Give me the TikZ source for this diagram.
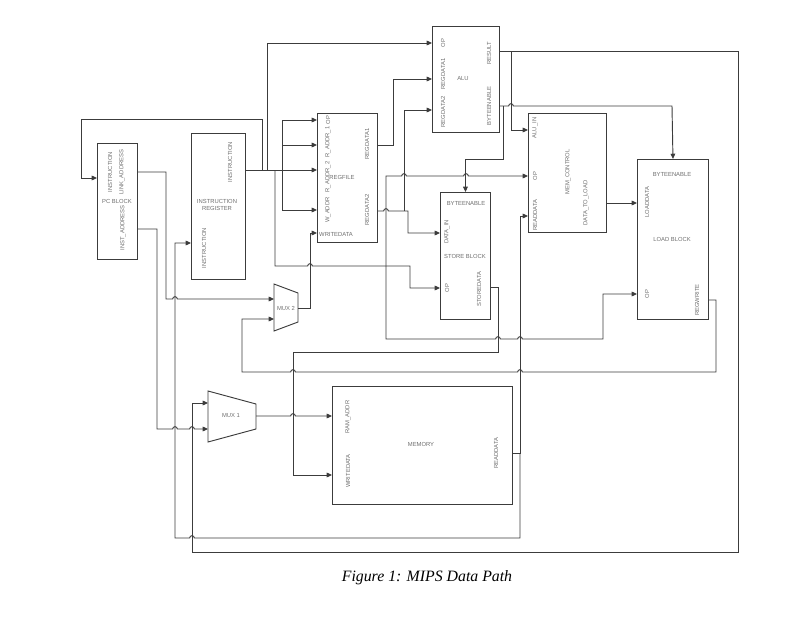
\documentclass[tikz,border=0pt]{standalone}
\usepackage{fontspec}
\setmainfont{Liberation Serif}
\newfontfamily\blkfont{Liberation Sans}
\usepackage{tikz}
\usetikzlibrary{calc,positioning,arrows.meta}
\usepackage{xcolor}
\definecolor{wiregray}{RGB}{60,60,60}
\definecolor{txtgray}{RGB}{110,110,110}

% small bump where a wire jumps over another one
\newcommand{\hopr}[1]{-- ($#1+(-2pt,0pt)$) arc[start angle=180,end angle=0,radius=2pt]}
\newcommand{\hopl}[1]{-- ($#1+(2pt,0pt)$) arc[start angle=0,end angle=180,radius=2pt]}

\begin{document}
\begin{tikzpicture}[x=0.03cm,y=-0.03cm,
  blk/.style={draw=wiregray, line width=0.8pt, inner sep=0pt, anchor=north west},
  lbl/.style={font=\blkfont\fontsize{5}{6}\selectfont, text=txtgray, inner sep=0pt},
  vlbl/.style={lbl, rotate=90},
  wire/.style={draw=wiregray, line width=0.8pt},
  sig/.style={wire, -{Triangle[length=4.5pt,width=4pt]}}]
  \useasboundingbox (0,0) rectangle (800,617);

  % Blocks
  \node[blk, minimum width=1.2cm, minimum height=3.48cm] (pc) at (97,143) {};
  \node[blk, minimum width=1.62cm, minimum height=4.38cm] (ir) at (191,133) {};
  \node[blk, minimum width=1.8cm, minimum height=3.87cm] (regfile) at (317,113) {};
  \node[blk, minimum width=2.01cm, minimum height=3.18cm] (alu) at (432,26) {};
  \node[blk, minimum width=1.5cm, minimum height=3.81cm] (store) at (440,192) {};
  \node[blk, minimum width=2.34cm, minimum height=3.57cm] (memctrl) at (528,113) {};
  \node[blk, minimum width=2.13cm, minimum height=4.8cm] (load) at (637,159) {};
  \node[blk, minimum width=5.4cm, minimum height=3.54cm] (mem) at (332,386) {};

  % Multiplexers
  \draw[wire] (274,284) -- (298,293) -- (298,322) -- (274,331) -- cycle;
  \node[lbl] (mux2) at (286,308) {MUX 2};
  \coordinate (mux2-a) at (274,299);
  \coordinate (mux2-b) at (274,319);
  \coordinate (mux2-o) at (298,308);
  \draw[wire] (208,391) -- (256,404) -- (256,429) -- (208,442) -- cycle;
  \node[lbl] (mux1) at (231,416) {MUX 1};
  \coordinate (mux1-a) at (208,403);
  \coordinate (mux1-b) at (208,429);
  \coordinate (mux1-o) at (256,416);

  % PC block
  \node[vlbl] (pc-inst) at (110,172) {INSTRUCTION};
  \node[vlbl] (pc-link) at (122,172) {LINK\_ADDRESS};
  \node[lbl] (pc-name) at (117,201) {PC BLOCK};
  \node[vlbl] (pc-addr) at (123,228) {INST\_ADDRESS};

  % Instruction register
  \node[vlbl] (ir-out) at (230,162) {INSTRUCTION};
  \node[lbl, align=center] (ir-name) at (217,205) {INSTRUCTION\\REGISTER};
  \node[vlbl] (ir-in) at (204,248) {INSTRUCTION};

  % Register file
  \node[vlbl] (rf-op) at (328,120) {OP};
  \node[vlbl] (rf-ra1) at (328,142) {R\_ADDR\_1};
  \node[vlbl] (rf-ra2) at (328,177) {R\_ADDR\_2};
  \node[vlbl] (rf-wa) at (328,210) {W\_ADDR};
  \node[lbl] (rf-name) at (342,177) {REGFILE};
  \node[vlbl] (rf-rd1) at (367,144) {REGDATA1};
  \node[vlbl] (rf-rd2) at (367,210) {REGDATA2};
  \node[lbl, anchor=west] (rf-wd) at (319,234) {WRITEDATA};

  % ALU
  \node[vlbl] (alu-op) at (443,43) {OP};
  \node[vlbl] (alu-rd1) at (443,74) {REGDATA1};
  \node[vlbl] (alu-rd2) at (443,112) {REGDATA2};
  \node[lbl] (alu-name) at (463,79) {ALU};
  \node[vlbl] (alu-res) at (489,53) {RESULT};
  \node[vlbl] (alu-be) at (489,106) {BYTEENABLE};

  % Store block
  \node[lbl] (st-be) at (466,203) {BYTEENABLE};
  \node[vlbl] (st-in) at (447,232) {DATA\_IN};
  \node[lbl] (st-name) at (465,256) {STORE BLOCK};
  \node[vlbl] (st-op) at (447,288) {OP};
  \node[vlbl] (st-out) at (479,289) {STOREDATA};

  % Memory control
  \node[vlbl] (mc-alu) at (535,128) {ALU\_IN};
  \node[vlbl] (mc-op) at (535,176) {OP};
  \node[vlbl] (mc-rd) at (535,215) {READDATA};
  \node[vlbl] (mc-name) at (568,172) {MEM\_CONTROL};
  \node[vlbl] (mc-out) at (586,203) {DATA\_TO\_LOAD};

  % Load block
  \node[lbl] (ld-be) at (672,174) {BYTEENABLE};
  \node[vlbl] (ld-in) at (647,202) {LOADDATA};
  \node[lbl] (ld-name) at (672,239) {LOAD BLOCK};
  \node[vlbl] (ld-op) at (647,294) {OP};
  \node[vlbl] (ld-rw) at (697,300) {REGWRITE};

  % Memory
  \node[vlbl] (mem-addr) at (348,417) {RAM\_ADDR};
  \node[lbl] (mem-name) at (421,444) {MEMORY};
  \node[vlbl] (mem-wd) at (348,471) {WRITEDATA};
  \node[vlbl] (mem-rd) at (496,453) {READDATA};

  % Instruction bus
  \draw[sig] (ir.east |- 0,170) -- (regfile.west |- 0,170);
  \draw[sig] (267,170) -- (267,43) -- (alu.west |- 0,43);
  \draw[sig] (262,170) -- (262,119) -- (81,119) -- (81,178) -- (pc.west |- 0,178);
  \draw[wire] (282,120) -- (282,210);
  \draw[sig] (282,120) -- (regfile.west |- 0,120);
  \draw[sig] (282,145) -- (regfile.west |- 0,145);
  \draw[sig] (282,210) -- (regfile.west |- 0,210);
  \draw[sig] (275,170) -- (275,266) \hopr{(310,266)} -- (410,266) -- (410,288) -- (store.west |- 0,288);
  \draw[sig] (386,266) -- (386,176) \hopr{(404,176)} \hopr{(466,176)} -- (memctrl.west |- 0,176);
  \draw[sig] (386,266) -- (386,339) \hopr{(498,339)} \hopr{(520,339)} -- (603,339) -- (603,294) -- (load.west |- 0,294);

  % Register data
  \draw[sig] (regfile.east |- 0,145) -- (393,145) -- (393,79) -- (alu.west |- 0,79);
  \draw[sig] (regfile.east |- 0,211) \hopr{(386,211)} -- (408,211) -- (408,233) -- (store.west |- 0,233);
  \draw[sig] (404,211) -- (404,110) -- (alu.west |- 0,110);

  % ALU outputs
  \draw[sig] (alu.east |- 0,51) -- (738,51) -- (738,552) -- (192,552) -- (192,403) -- (mux1-a);
  \draw[sig] (511,51) -- (511,130) -- (memctrl.west |- 0,130);
  \draw[sig] (alu.east |- 0,106) \hopr{(511,106)} -- (672,106) -- (load.north);
  \draw[sig] (503,106) -- (503,159) -- (store.north |- 0,159) -- (store.north);

  % Memory side
  \draw[sig] (memctrl.east |- 0,203) -- (load.west |- 0,203);
  \draw[sig] (load.east |- 0,300) -- (716,300) -- (716,372) \hopl{(520,372)} \hopl{(293,372)} -- (242,372) -- (242,319) -- (mux2-b);
  \draw[sig] (store.east |- 0,287) -- (498,287) -- (498,352) -- (293,352) -- (293,475) -- (mem.west |- 0,475);
  \draw[sig] (mem.east |- 0,453) -- (520,453) -- (520,216) -- (memctrl.west |- 0,216);
  \draw[sig] (520,453) -- (520,538) \hopl{(192,538)} -- (175,538) -- (175,243) -- (ir.west |- 0,243);

  % PC outputs and muxes
  \draw[sig] (pc.east |- 0,172) -- (166,172) -- (166,299) \hopr{(175,299)} -- (mux2-a);
  \draw[sig] (pc.east |- 0,229) -- (157,229) -- (157,429) \hopr{(175,429)} \hopr{(192,429)} -- (mux1-b);
  \draw[sig] (mux1-o) \hopr{(293,416)} -- (mem.west |- 0,416);
  \draw[sig] (mux2-o) -- (310,308) -- (310,233) -- (regfile.west |- 0,233);

  \node[font=\itshape\fontsize{13.5}{16}\selectfont] (caption) at (427,578) {Figure 1: MIPS Data Path};
\end{tikzpicture}
\end{document}
